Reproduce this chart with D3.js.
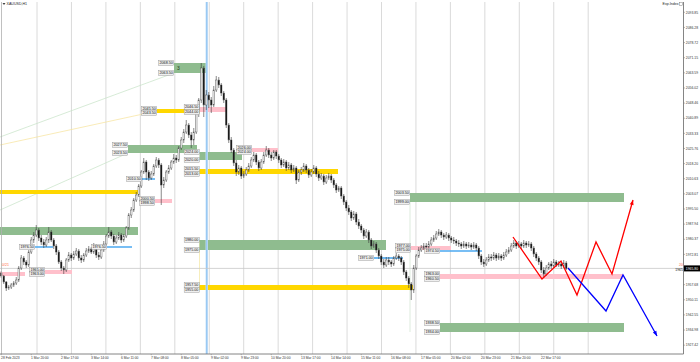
<!DOCTYPE html>
<html>
<head>
<meta charset="utf-8">
<script src="https://cdn.jsdelivr.net/npm/d3@7"></script>
<style>
  body { margin: 0; background: #fff; }
  svg { display: block; }
  text { font-family: "Liberation Sans", Arial, sans-serif; }
</style>
</head>
<body>
<div id="chart"></div>
<script>
// XAUUSD H1 candles (open of each bar = previous close)
const firstOpen = 1963.5
const closes = [
  1962,1959,1956,1956.5,1957.5,1958.5,1960,1966,1971,1969,
  1967.5,1974,1980,1982.5,1985,1981,1979,1977.5,1980,1984,
  1980,1977,1974,1969,1966,1965,1970,1972.5,1971,1973,
  1974.5,1971,1970,1972.5,1974.5,1975.5,1974,1977,1972.5,1971.5,
  1975,1978,1982,1984,1982,1979,1981,1982.5,1980,1982,
  1986,1992.5,1995,2000,2002.5,2007,2014,2019,2014,2011,
  2013,2017,2020,2017.5,2007.5,2010,2014,2016,2019,2021,
  2020,2026,2030,2034,2037.5,2032.5,2030,2034,2045,2050,
  2066,2047.5,2052.5,2050,2047.5,2055,2060,2057.5,2053.5,2050,
  2037.5,2030,2025,2018.5,2014,2016,2012,2013,2015,2017,
  2020,2022.5,2019,2016,2019,2022.5,2025,2022.5,2021,2024,
  2022,2020,2017.5,2019,2016,2017.5,2015,2016,2010,2014,
  2015,2017,2015,2012.5,2014,2016,2013,2011,2012,2009,
  2011,2012,2010,2007.5,2005,2006,2002,1999,1996,1994,
  1991,1993,1989,1987,1985,1982,1984,1980,1977,1978,
  1975,1972,1969,1967.5,1970,1969,1968,1971,1972,1971,
  1969,1964,1961,1958,1955,1966,1972,1975,1976,1977,
  1976.5,1978,1980,1981,1983,1984,1982.5,1981.5,1982.5,1981,
  1980,1979.5,1978.5,1978,1977,1978,1977,1977.5,1976.5,1977.5,
  1976,1972,1969,1968,1970,1971.5,1971,1972.5,1971,1972,
  1971,1972.5,1974,1975,1977,1978.5,1977,1978,1977,1978.5,
  1977.5,1978,1976,1973,1971,1969,1965,1963,1966,1968,
  1967,1969,1967.5,1968,1967,1968.5,1965.8
]
const highs = [
  1964.5,1962.5,1959.5,1957.5,1958.5,1959.5,1961.5,1967,1972.5,1972,
  1970,1975,1981.5,1984,1987.5,1986,1982.5,1980.5,1981.5,1986.5,
  1985,1981,1978,1975,1970,1967,1971,1974,1973.5,1974.5,
  1976,1975.5,1972.5,1973.5,1976,1977,1976.5,1978.5,1978,1974,
  1976,1979.5,1983,1986.5,1985,1983,1982.5,1984,1983.5,1983,
  1987,1993.5,1996.5,2001,2004,2008,2015,2021,2020,2015,
  2014.5,2018,2021.5,2021,2018.5,2011.5,2015,2017.5,2020,2023,
  2022.5,2027,2031.5,2035.5,2040,2038.5,2034,2036,2047,2051,
  2068.5,2067,2055,2054,2051.5,2057,2062,2061.5,2058.5,2054.5,
  2051,2038.5,2031.5,2026,2020,2017.5,2017,2014.5,2016.5,2018.5,
  2021.5,2024,2023.5,2020,2020.5,2024,2027,2026,2024,2025,
  2025,2023,2021,2020.5,2020,2019,2018.5,2017.5,2017,2015,
  2016.5,2018.5,2018,2016,2015.5,2017.5,2017,2014.5,2013.5,2013,
  2012.5,2013.5,2013,2011,2008.5,2007,2007,2003,2000,1997.5,
  1995,1994.5,1994,1990.5,1988,1986,1985.5,1985,1981,1979.5,
  1979,1976,1973,1970.5,1971.5,1971.5,1970,1972,1973.5,1973,
  1972,1970,1965,1962,1959,1967.5,1973,1976.5,1977.5,1978.5,
  1978.5,1979.5,1981.5,1982.5,1984.5,1985.5,1985,1983.5,1984,1983.5,
  1982,1981.5,1980.5,1980,1979,1979.5,1979,1979,1978.5,1979,
  1978.5,1977,1973,1970.5,1971.5,1973,1973,1974,1973.5,1973.5,
  1973,1974,1975.5,1976.5,1978.5,1980,1979.5,1979.5,1979,1980,
  1979.5,1979.5,1979,1977,1974,1972,1970,1966.5,1967.5,1969,
  1969.5,1970.5,1970,1969.5,1969,1970,1969.5
]
const lows = [
  1961,1958,1954.5,1955,1955.5,1956.5,1957.5,1959,1965,1967.5,
  1966,1966.5,1973,1978.5,1981.5,1979.5,1977.5,1976,1976.5,1978.5,
  1979,1975.5,1972.5,1968,1964.5,1963,1964,1969,1969.5,1970,
  1972,1969.5,1968.5,1969,1971.5,1973.5,1973,1973,1971,1970,
  1970.5,1974,1977,1981,1980.5,1977.5,1978,1980,1978.5,1979,
  1981,1985,1991,1994,1999,2001.5,2006,2013,2010,2009.5,
  2010,2012,2016,2016,1997.5,2006,2009,2013,2015,2018,
  2018.5,2019,2025,2028.5,2033,2031,2026,2027.5,2033,2041.5,
  2048.5,2041.5,2045,2046,2043.5,2046.5,2054,2056,2052,2048.5,
  2036,2028.5,2023.5,2017,2012,2012.5,2010.5,2011,2012,2014,
  2016,2019,2017.5,2014.5,2015,2018,2021.5,2021,2019.5,2020,
  2020.5,2018.5,2016,2016.5,2014.5,2015,2013.5,2014,2008,2009,
  2012.5,2014,2013.5,2011,2011.5,2013,2011.5,2009.5,2010,2007.5,
  2008,2010,2008.5,2006,2003.5,2004,2000.5,1997.5,1994.5,1992.5,
  1989.5,1990,1987.5,1985.5,1983.5,1980.5,1981,1978.5,1975.5,1976,
  1973.5,1970.5,1967.5,1966,1966.5,1967.5,1966.5,1967,1970,1969.5,
  1967.5,1962.5,1959.5,1956,1950,1953.5,1965,1971,1974,1975,
  1975,1975.5,1977,1979,1980,1982,1981,1980,1980.5,1979.5,
  1978.5,1978,1977,1976.5,1975.5,1976,1975.5,1976,1975,1975.5,
  1974.5,1970.5,1967.5,1966.5,1967,1969,1969.5,1970,1969.5,1970,
  1969.5,1970,1971.5,1973,1974,1976,1975.5,1976,1975.5,1976,
  1976,1976.5,1974.5,1971.5,1969.5,1967.5,1963.5,1961,1962,1965,
  1965.5,1966,1966.5,1966.5,1965.5,1966,1965
]

// time axis labels, one every 12 bars
const timeLabels = ["28 Feb 2023","1 Mar 20:00","2 Mar 17:00","3 Mar 14:00","6 Mar 11:00",
  "7 Mar 08:00","8 Mar 05:00","9 Mar 02:00","9 Mar 23:00","10 Mar 20:00","13 Mar 17:00",
  "14 Mar 14:00","15 Mar 11:00","16 Mar 08:00","17 Mar 05:00","20 Mar 02:00",
  "20 Mar 23:00","21 Mar 20:00","22 Mar 17:00"]

// right price scale labels
const priceTicks = [2093.85,2086.28,2078.72,2071.15,2063.59,2056.02,2048.46,2040.89,
  2033.33,2025.76,2018.20,2010.63,2003.07,1995.50,1987.94,1980.37,1972.81,1965.24,
  1957.68,1950.11,1942.55,1934.98,1927.42]

// zones: [fromBar, toBar, topPrice, bottomPrice, showLabels]
const greenZones = [
  [69.1, 82.3, 2068.5, 2063.5, true],
  [50.7, 78.3, 2027.5, 2023.5, true],
  [79.3, 96.3, 2024, 2020, true],
  [-2, 54.7, 1986.5, 1982.5, false],
  [79.3, 153.9, 1980, 1975, true],
  [163.5, 249.1, 2003.5, 1999, true],
  [175.5, 249.1, 1938.5, 1934, true]
]
const yellowZones = [
  [62.3, 79.3, 2045.5, 2043.5, true],
  [-2, 54.7, 2005, 2003, false],
  [79.3, 134.7, 2015.5, 2013, true],
  [79.3, 164.7, 1957.5, 1955, true]
]
const pinkZones = [
  [79.3, 90.3, 2046.5, 2044, true],
  [61.5, 68.3, 2000.5, 1998.5, true],
  [-2, 9.5, 1964, 1962, false],
  [17.5, 28.3, 1965, 1963, true],
  [100.3, 110.7, 2026, 2024, true],
  [163.9, 179.9, 1977, 1975, true],
  [175.5, 248.7, 1963, 1960.5, true]
]
// blue levels: [fromBar, toBar, price]
const blueLevels = [
  [13.5, 20.7, 1976.5],
  [42.3, 52.3, 1976.5],
  [56.3, 61.5, 2010.5],
  [149.1, 160.7, 1971],
  [175.5, 192.3, 1974.5]
]
// faint trend lines: [bar1, price1, bar2, price2]
const greenTrends = [[-0.5, 2031.5, 69.1, 2063.5], [-0.5, 1995, 50.7, 2023.5]]
const yellowTrends = [[-0.5, 2027.5, 62.3, 2044.5]]
const connectors = [[79.3, 1980, 1955, "#f3e6a0"], [163.5, 1999, 1934, "#cfe3cf"]]
const markerBar = 82.2

// projected scenarios
const redPath = [[204.7,1981.5],[216.3,1960.5],[223.9,1969.5],[230.3,1952.5],[237.9,1979],[244.3,1963],[252.7,2000]]
const bluePath = [[226.7,1966],[241.9,1944.5],[248.7,1962.5],[262.3,1932]]

const W = 700, H = 362
const plotRight = 683.5, plotBottom = 354

const svg = d3.select("#chart").append("svg").attr("width", W).attr("height", H)
svg.append("rect").attr("width", W).attr("height", H).attr("fill", "#fff")

const x = d3.scaleLinear().domain([0, 272]).range([1.25, 681.25])
const y = d3.scaleLinear().domain([1900, 2100]).range([400, 0])

svg.append("clipPath").attr("id", "plot")
  .append("rect").attr("x", 0).attr("y", 2).attr("width", plotRight).attr("height", plotBottom - 2)

const plot = svg.append("g").attr("clip-path", "url(#plot)")

// vertical grid
const gridBars = d3.range(14.3, 236, 13.78)
plot.selectAll("line.grid").data(gridBars).join("line")
  .attr("x1", d => x(d)).attr("x2", d => x(d))
  .attr("y1", 2).attr("y2", plotBottom)
  .attr("stroke", "#d0d0d0").attr("stroke-width", 0.8)

// faint trend lines and connectors
const trendG = plot.append("g").attr("stroke-width", 0.7).attr("fill", "none")
greenTrends.forEach(t => trendG.append("line")
  .attr("x1", x(t[0])).attr("y1", y(t[1])).attr("x2", x(t[2])).attr("y2", y(t[3]))
  .attr("stroke", "#c6e2c6"))
yellowTrends.forEach(t => trendG.append("line")
  .attr("x1", x(t[0])).attr("y1", y(t[1])).attr("x2", x(t[2])).attr("y2", y(t[3]))
  .attr("stroke", "#f6e39a"))
connectors.forEach(c => trendG.append("line")
  .attr("x1", x(c[0])).attr("x2", x(c[0])).attr("y1", y(c[1])).attr("y2", y(c[2]))
  .attr("stroke", c[3]))

// zones
function drawZones(list, fill) {
  plot.append("g").selectAll("rect").data(list).join("rect")
    .attr("x", d => x(d[0])).attr("width", d => x(d[1]) - x(d[0]))
    .attr("y", d => y(d[2])).attr("height", d => y(d[3]) - y(d[2]))
    .attr("fill", fill)
}
drawZones(greenZones, "#8fbc8f")
drawZones(yellowZones, "#ffd700")
drawZones(pinkZones, "#ffc0cb")

// blue levels
plot.append("g").selectAll("line").data(blueLevels).join("line")
  .attr("x1", d => x(d[0])).attr("x2", d => x(d[1]))
  .attr("y1", d => y(d[2])).attr("y2", d => y(d[2]))
  .attr("stroke", "#4ba8f0").attr("stroke-width", 1.6)

// blue vertical marker
plot.append("line").attr("x1", x(markerBar)).attr("x2", x(markerBar)).attr("y1", 2).attr("y2", plotBottom)
  .attr("stroke", "#c4e0f8").attr("stroke-width", 2.4)
plot.append("line").attr("x1", x(markerBar)).attr("x2", x(markerBar)).attr("y1", 2).attr("y2", plotBottom)
  .attr("stroke", "#74b4ee").attr("stroke-width", 0.7)

// bid line
const lastClose = closes[closes.length - 1]
plot.append("line").attr("x1", 0).attr("x2", plotRight)
  .attr("y1", y(lastClose)).attr("y2", y(lastClose))
  .attr("stroke", "#c8c8c8").attr("stroke-width", 0.8)

// candles
const bars = closes.map((c, i) => ({ i, o: i ? closes[i - 1] : firstOpen, c, h: highs[i], l: lows[i] }))
const candleG = plot.append("g")
candleG.selectAll("line").data(bars).join("line")
  .attr("x1", d => x(d.i)).attr("x2", d => x(d.i))
  .attr("y1", d => y(d.h)).attr("y2", d => y(d.l))
  .attr("stroke", "#3a3a3a").attr("stroke-width", 0.6)
candleG.selectAll("rect").data(bars).join("rect")
  .attr("x", d => x(d.i) - 0.75).attr("width", 1.5)
  .attr("y", d => y(Math.max(d.o, d.c)))
  .attr("height", d => Math.max(0.5, Math.abs(y(d.o) - y(d.c))))
  .attr("fill", d => d.c >= d.o ? "#fff" : "#111")
  .attr("stroke", "#444").attr("stroke-width", 0.4)

// projection arrows
function arrowPath(pts, color) {
  const line = d3.line().x(d => x(d[0])).y(d => y(d[1]))
  plot.append("path").attr("d", line(pts)).attr("fill", "none")
    .attr("stroke", color).attr("stroke-width", 1.3)
  const a = pts[pts.length - 2], b = pts[pts.length - 1]
  const bx = x(b[0]), by = y(b[1])
  const ang = Math.atan2(by - y(a[1]), bx - x(a[0]))
  const len = 5, hw = 2
  const px = bx - len * Math.cos(ang), py = by - len * Math.sin(ang)
  plot.append("path")
    .attr("d", `M${bx},${by}L${px - hw * Math.sin(ang)},${py + hw * Math.cos(ang)}L${px + hw * Math.sin(ang)},${py - hw * Math.cos(ang)}Z`)
    .attr("fill", color)
}
arrowPath(redPath, "#ff0000")
arrowPath(bluePath, "#0000ff")

// price tags next to zones
const tagG = svg.append("g")
function tag(xRight, yc, text) {
  const w = text.length * 1.95 + 1.4
  tagG.append("rect").attr("x", xRight - w).attr("y", yc - 2.5).attr("width", w).attr("height", 5)
    .attr("fill", "#efefef").attr("stroke", "#8a8a8a").attr("stroke-width", 0.4)
  tagG.append("text").attr("x", xRight - w / 2).attr("y", yc + 1.3).attr("text-anchor", "middle")
    .attr("font-size", 3.7).attr("fill", "#111").text(text)
}
;[...greenZones, ...yellowZones, ...pinkZones].filter(d => d[4]).forEach(d => {
  tag(x(d[0]) - 0.3, y(d[2]), d[2].toFixed(2))
  tag(x(d[0]) - 0.3, y(d[3]), d[3].toFixed(2))
})
blueLevels.forEach(d => tag(x(d[0]) - 0.3, y(d[2]), d[2].toFixed(2)))

// zone number
svg.append("text").attr("x", x(greenZones[0][0]) + 3).attr("y", y(greenZones[0][3]) - 2.8)
  .attr("font-size", 5).attr("fill", "#1d3d1d").text("3")

// frame and axes
svg.append("line").attr("x1", 1.5).attr("x2", 1.5).attr("y1", 2).attr("y2", plotBottom)
  .attr("stroke", "#b0b0b0").attr("stroke-width", 0.8)
svg.append("line").attr("x1", plotRight).attr("x2", plotRight).attr("y1", 2).attr("y2", plotBottom)
  .attr("stroke", "#777").attr("stroke-width", 0.9)
svg.append("line").attr("x1", 0).attr("x2", plotRight).attr("y1", plotBottom).attr("y2", plotBottom)
  .attr("stroke", "#777").attr("stroke-width", 0.9)

const axisG = svg.append("g")
axisG.selectAll("line.pt").data(priceTicks).join("line")
  .attr("x1", plotRight).attr("x2", plotRight + 1.5)
  .attr("y1", d => y(d)).attr("y2", d => y(d)).attr("stroke", "#777").attr("stroke-width", 0.5)
axisG.selectAll("text.pt").data(priceTicks).join("text")
  .attr("x", plotRight + 2.3).attr("y", d => y(d) + 1.2)
  .attr("font-size", 3.4).attr("fill", "#333").text(d => d.toFixed(2))

axisG.selectAll("text.tt").data(timeLabels).join("text")
  .attr("x", (d, k) => x(k * 12) - 0.2).attr("y", plotBottom + 4.5)
  .attr("font-size", 3.3).attr("fill", "#333").text(d => d)
axisG.selectAll("line.tt").data(timeLabels).join("line")
  .attr("x1", (d, k) => x(k * 12)).attr("x2", (d, k) => x(k * 12))
  .attr("y1", plotBottom).attr("y2", plotBottom + 1.2).attr("stroke", "#777").attr("stroke-width", 0.5)

// current price box
svg.append("rect").attr("x", plotRight + 0.5).attr("y", y(lastClose) - 3).attr("width", 16).attr("height", 6)
  .attr("fill", "#000")
svg.append("text").attr("x", plotRight + 2.3).attr("y", y(lastClose) + 1.3)
  .attr("font-size", 3.4).attr("fill", "#fff").text(lastClose.toFixed(2))
svg.append("text").attr("x", plotRight - 0.6).attr("y", y(lastClose) - 2.2).attr("text-anchor", "end")
  .attr("font-size", 3.4).attr("fill", "#ff6a3d").text("20")
svg.append("text").attr("x", plotRight - 0.6).attr("y", y(lastClose) + 2.3).attr("text-anchor", "end")
  .attr("font-size", 3.4).attr("fill", "#000").text(Math.floor(lastClose))
svg.append("text").attr("x", 2).attr("y", y(lastClose) - 2.2)
  .attr("font-size", 3.6).attr("fill", "#ff6a3d").text("0/21")

// title and indicator caption
svg.append("path").attr("d", "M2.5,3.2L5.5,3.2L4,4.8Z").attr("fill", "#000")
svg.append("text").attr("x", 6.5).attr("y", 5).attr("font-size", 3.6).attr("fill", "#222").text("XAUUSD,H1")
svg.append("text").attr("x", 678.5).attr("y", 5.2).attr("text-anchor", "end")
  .attr("font-size", 3.6).attr("fill", "#222").text("Exp.Index")
svg.append("rect").attr("x", 679.3).attr("y", 2.2).attr("width", 3.2).attr("height", 3.2)
  .attr("fill", "#fff").attr("stroke", "#666").attr("stroke-width", 0.4)
</script>
</body>
</html>
